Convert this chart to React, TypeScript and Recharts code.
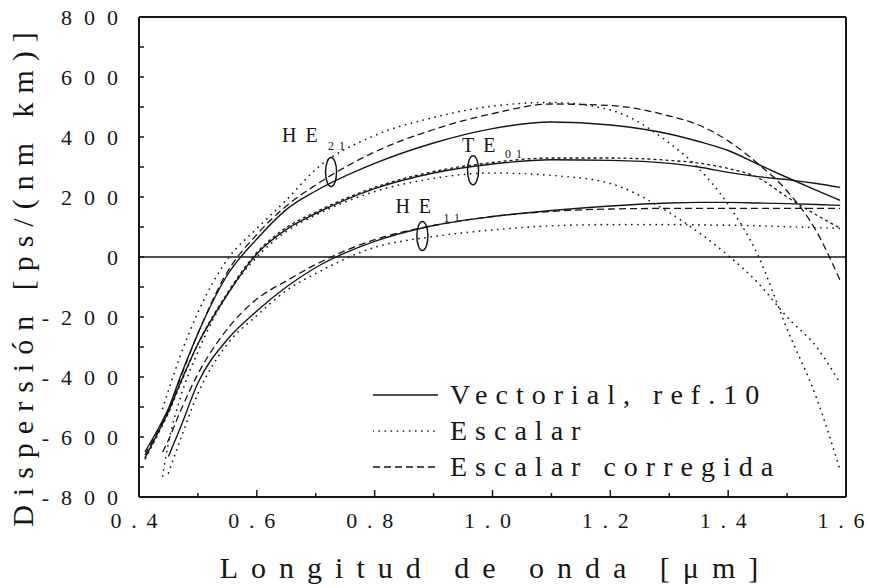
import { LineChart, Line, XAxis, YAxis, ReferenceLine, ReferenceDot, Legend } from 'recharts';

const FONT = 'Liberation Serif, serif';
const INK = '#161616';

// longitud de onda [µm]
const wavelength = [0.41, 0.44, 0.45, 0.47, 0.5, 0.55, 0.6, 0.65, 0.7, 0.8, 0.9, 1.0, 1.1, 1.2, 1.3, 1.35, 1.4, 1.45, 1.5, 1.55, 1.59];

// HE21
const he21Vectorial = [-650, -545, -505, -400, -255, -60, 60, 158, 220, 312, 380, 428, 450, 440, 410, 385, 355, 310, 265, 222, 189];
const he21Escalar = [null, -505, -445, -330, -185, -8, 95, 190, 292, 405, 465, 503, 515, 490, 380, 295, 175, 8, -240, -470, -710];
const he21Corregida = [-660, -550, -510, -405, -255, -50, 75, 170, 240, 350, 425, 478, 510, 505, 470, 440, 387, 312, 220, 85, -78];

// TE01
const te01Vectorial = [-670, -555, -515, -420, -290, -125, 10, 92, 145, 228, 280, 310, 324, 322, 312, 300, 282, 268, 258, 245, 232];
const te01Escalar = [null, -730, -620, -470, -316, -125, 0, 85, 140, 218, 262, 280, 272, 245, 148, 82, 5, -85, -200, -300, -420];
const te01Corregida = [-675, -560, -520, -425, -290, -120, 15, 98, 150, 232, 285, 315, 330, 330, 322, 313, 295, 265, 200, 140, 96];

// HE11
const he11Vectorial = [null, null, -665, -570, -420, -275, -180, -100, -35, 52, 105, 135, 155, 170, 180, 182, 182, 180, 178, 175, 172];
const he11Escalar = [null, null, -720, -610, -455, -290, -195, -112, -55, 32, 68, 90, 104, 108, 108, 107, 106, 104, 101, 98, 95];
const he11Corregida = [null, -650, -610, -515, -390, -240, -140, -80, -25, 58, 105, 135, 152, 160, 162, 162, 162, 162, 162, 162, 162];

const xTicks = [0.4, 0.5, 0.6, 0.7, 0.8, 0.9, 1.0, 1.1, 1.2, 1.3, 1.4, 1.5, 1.6];
const yTicks = [-800, -700, -600, -500, -400, -300, -200, -100, 0, 100, 200, 300, 400, 500, 600, 700, 800];

const methods = ['Vectorial, ref.10', 'Escalar', 'Escalar corregida'];

// etiquetas de modo (elipse sobre las curvas)
const modeNames = ['HE', 'TE', 'HE'];
const modeSubs = ['21', '01', '11'];
const modeX = [0.726, 0.967, 0.881];
const modeY = [283, 289, 70];

const data = wavelength.map((x, i) => ({
    x,
    he21V: he21Vectorial[i],
    he21E: he21Escalar[i],
    he21C: he21Corregida[i],
    te01V: te01Vectorial[i],
    te01E: te01Escalar[i],
    te01C: te01Corregida[i],
    he11V: he11Vectorial[i],
    he11E: he11Escalar[i],
    he11C: he11Corregida[i],
}));

const SOLID = { strokeWidth: 1.4 };
const DOTTED = { strokeWidth: 1.7, strokeDasharray: '0.1 6', strokeLinecap: 'round' as const };
const DASHED = { strokeWidth: 1.3, strokeDasharray: '7 4' };

// posiciones del texto respecto a la elipse [dx, dy, subDx, subDy]
const modeOffsets = [
    [-49, -30, -3, -22],
    [-11, -18, 32, -12],
    [-27, -23, 21, -14],
];

const YTick = ({ x, y, payload }: any) => {
    const v = payload.value;
    return (
        <g>
            <line x1={x} x2={x + 5} y1={y} y2={y} stroke={INK} strokeWidth={1.5} />
            {v % 200 === 0 && (
                <text x={x - 9} y={y + 8} textAnchor="end" fontSize={22} letterSpacing={12} fontFamily={FONT} fill={INK}>
                    {v}
                </text>
            )}
        </g>
    );
};

const XTick = ({ x, y, payload }: any) => {
    const v = payload.value;
    const major = Math.round(v * 10) % 2 === 0;
    return (
        <g>
            <line x1={x} x2={x} y1={y} y2={y - (major ? 7 : 4)} stroke={INK} strokeWidth={1.5} />
            {major && (
                // espaciado repartido entre letras, sin hueco final
                <text
                    x={x - 5}
                    y={y + 31}
                    textAnchor="middle"
                    fontSize={22}
                    textLength={47}
                    lengthAdjust="spacing"
                    fontFamily={FONT}
                    fill={INK}
                >
                    {v.toFixed(1)}
                </text>
            )}
        </g>
    );
};

const XTitle = ({ viewBox }: any) => (
    <text
        x={viewBox.x + viewBox.width / 2 + 3}
        y={viewBox.y + 81}
        textAnchor="middle"
        fontSize={30}
        letterSpacing={13}
        fontFamily={FONT}
        fill={INK}
    >
        Longitud de onda [μm]
    </text>
);

const YTitle = ({ viewBox }: any) => {
    const x = viewBox.x + viewBox.width - 106;
    const y = viewBox.y + viewBox.height / 2 + 18;
    return (
        <text
            x={x}
            y={y}
            transform={`rotate(-90, ${x}, ${y})`}
            textAnchor="middle"
            fontSize={30}
            letterSpacing={9}
            fontFamily={FONT}
            fill={INK}
        >
            Dispersión [ps/(nm km)]
        </text>
    );
};

const ModeMark = ({ cx, cy, idx }: any) => {
    const [dx, dy, sdx, sdy] = modeOffsets[idx];
    return (
        <g>
            <ellipse cx={cx} cy={cy} rx={5.5} ry={14.5} fill="none" stroke={INK} strokeWidth={1.5} />
            <text x={cx + dx} y={cy + dy} fontSize={20} letterSpacing={9} fontFamily={FONT} fill={INK}>
                {modeNames[idx]}
            </text>
            <text x={cx + sdx} y={cy + sdy} fontSize={12} letterSpacing={5} fontFamily={FONT} fill={INK}>
                {modeSubs[idx]}
            </text>
        </g>
    );
};

const legendStyles = [SOLID, DOTTED, DASHED];

const LegendBox = () => (
    <div style={{ fontFamily: FONT, color: INK }}>
        {methods.map((m, i) => (
            <div key={m} style={{ display: 'flex', alignItems: 'center', height: 36 }}>
                <svg width={65} height={4}>
                    <line x1={0} x2={65} y1={2} y2={2} stroke={INK} {...legendStyles[i]} />
                </svg>
                <span style={{ marginLeft: 12, fontSize: 28, lineHeight: '36px', letterSpacing: 8, whiteSpace: 'nowrap' }}>
                    {m}
                </span>
            </div>
        ))}
    </div>
);

export default function App() {
    return (
        <>
            <style>{'body { margin: 0; }'}</style>
            <LineChart width={870} height={588} data={data} margin={{ top: 17, right: 24, bottom: 61, left: 79 }}>
                <XAxis
                    dataKey="x"
                    type="number"
                    domain={[0.4, 1.6]}
                    ticks={xTicks}
                    height={30}
                    tickSize={0}
                    tickMargin={0}
                    tickLine={false}
                    tick={<XTick />}
                    axisLine={{ stroke: INK, strokeWidth: 2 }}
                    label={<XTitle />}
                />
                <YAxis
                    type="number"
                    domain={[-800, 800]}
                    ticks={yTicks}
                    width={60}
                    tickSize={0}
                    tickMargin={0}
                    tickLine={false}
                    tick={<YTick />}
                    axisLine={{ stroke: INK, strokeWidth: 2 }}
                    label={<YTitle />}
                />
                <ReferenceLine y={800} stroke={INK} strokeWidth={2} />
                <ReferenceLine x={1.6} stroke={INK} strokeWidth={2} />
                <ReferenceLine y={0} stroke={INK} strokeWidth={1.6} />

                {/* Vectorial */}
                <Line dataKey="he21V" type="monotone" stroke={INK} {...SOLID} dot={false} isAnimationActive={false} />
                <Line dataKey="te01V" type="monotone" stroke={INK} {...SOLID} dot={false} isAnimationActive={false} />
                <Line dataKey="he11V" type="monotone" stroke={INK} {...SOLID} dot={false} isAnimationActive={false} />
                {/* Escalar */}
                <Line dataKey="he21E" type="monotone" stroke={INK} {...DOTTED} dot={false} isAnimationActive={false} />
                <Line dataKey="te01E" type="monotone" stroke={INK} {...DOTTED} dot={false} isAnimationActive={false} />
                <Line dataKey="he11E" type="monotone" stroke={INK} {...DOTTED} dot={false} isAnimationActive={false} />
                {/* Escalar corregida */}
                <Line dataKey="he21C" type="monotone" stroke={INK} {...DASHED} dot={false} isAnimationActive={false} />
                <Line dataKey="te01C" type="monotone" stroke={INK} strokeWidth={1.3} strokeDasharray="3 3" dot={false} isAnimationActive={false} />
                <Line dataKey="he11C" type="monotone" stroke={INK} {...DASHED} dot={false} isAnimationActive={false} />

                {modeNames.map((n, i) => (
                    <ReferenceDot
                        key={n + modeSubs[i]}
                        x={modeX[i]}
                        y={modeY[i]}
                        r={0}
                        shape={(p: any) => <ModeMark {...p} idx={i} />}
                    />
                ))}

                <Legend
                    layout="vertical"
                    align="center"
                    verticalAlign="middle"
                    wrapperStyle={{ left: 373, top: 377, width: 460 }}
                    content={() => <LegendBox />}
                />
            </LineChart>
        </>
    );
}
